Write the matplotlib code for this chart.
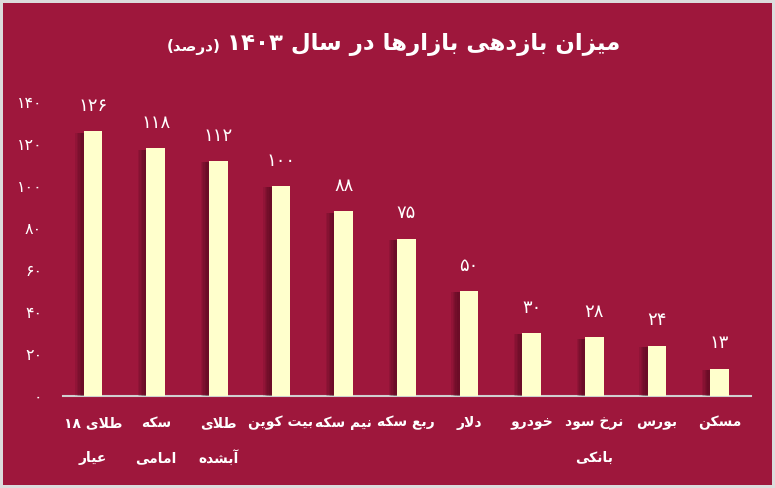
import re
import numpy as np
import matplotlib.pyplot as plt
import matplotlib.patheffects as pe
from matplotlib.transforms import blended_transform_factory

# data
labels = [["طلای ۱۸", "عیار"], ["سکه", "امامی"], ["طلای", "آبشده"], ["بیت کوین"],
          ["نیم سکه"], ["ربع سکه"], ["دلار"], ["خودرو"], ["نرخ سود", "بانکی"],
          ["بورس"], ["مسکن"]]
values = [126, 118, 112, 100, 88, 75, 50, 30, 28, 24, 13]
yticks = [0, 20, 40, 60, 80, 100, 120, 140]
title = "میزان بازدهی بازارها در سال ۱۴۰۳"
unit = "(درصد)"

bg = "#9e173c"
bar_color = "#ffffcc"

# simple persian shaping (no arabic_reshaper available)
FORMS = {
    'ا': (0xFE8D, 0xFE8E, None, None), 'آ': (0xFE81, 0xFE82, None, None),
    'ب': (0xFE8F, 0xFE90, 0xFE91, 0xFE92), 'ت': (0xFE95, 0xFE96, 0xFE97, 0xFE98),
    'خ': (0xFEA5, 0xFEA6, 0xFEA7, 0xFEA8), 'د': (0xFEA9, 0xFEAA, None, None),
    'ر': (0xFEAD, 0xFEAE, None, None), 'ز': (0xFEAF, 0xFEB0, None, None),
    'س': (0xFEB1, 0xFEB2, 0xFEB3, 0xFEB4), 'ش': (0xFEB5, 0xFEB6, 0xFEB7, 0xFEB8),
    'ص': (0xFEB9, 0xFEBA, 0xFEBB, 0xFEBC), 'ط': (0xFEC1, 0xFEC2, 0xFEC3, 0xFEC4),
    'ع': (0xFEC9, 0xFECA, 0xFECB, 0xFECC), 'ل': (0xFEDD, 0xFEDE, 0xFEDF, 0xFEE0),
    'م': (0xFEE1, 0xFEE2, 0xFEE3, 0xFEE4), 'ن': (0xFEE5, 0xFEE6, 0xFEE7, 0xFEE8),
    'ه': (0xFEE9, 0xFEEA, 0xFEEB, 0xFEEC), 'و': (0xFEED, 0xFEEE, None, None),
    'ی': (0xFBFC, 0xFBFD, 0xFBFE, 0xFBFF), 'ک': (0xFB8E, 0xFB8F, 0xFB90, 0xFB91),
    'LA': (0xFEFB, 0xFEFC, None, None),
}


def fa(s):
    items = []
    i = 0
    while i < len(s):
        if s[i] == 'ل' and i + 1 < len(s) and s[i + 1] == 'ا':
            items.append('LA')
            i += 2
        else:
            items.append(s[i])
            i += 1
    out = []
    for k, c in enumerate(items):
        if c not in FORMS:
            out.append(c)
            continue
        prev = items[k - 1] if k > 0 else None
        nxt = items[k + 1] if k + 1 < len(items) else None
        jp = prev in FORMS and FORMS[prev][2] is not None
        jn = nxt in FORMS and FORMS[c][2] is not None
        iso, fin, ini, med = FORMS[c]
        if jp and jn:
            out.append(chr(med))
        elif jp:
            out.append(chr(fin))
        elif jn:
            out.append(chr(ini))
        else:
            out.append(chr(iso))
    vis = ''.join(out)[::-1]
    vis = re.sub(r'[0-9۰-۹]+', lambda m: m.group()[::-1], vis)
    return vis.translate(str.maketrans('()', ')('))


def fa_num(n):
    return str(n).translate(str.maketrans('0123456789', '۰۱۲۳۴۵۶۷۸۹'))


fig = plt.figure(figsize=(7.75, 4.88), dpi=100)
fig.patch.set_facecolor(bg)
fig.patch.set_edgecolor("#dcdcdc")
fig.patch.set_linewidth(4)

ax = fig.add_axes([63 / 775, 92 / 488, 688 / 775, 294 / 488])
ax.set_facecolor(bg)

x = np.arange(len(values))
bars = ax.bar(x, values, width=0.3, color=bar_color, zorder=3)
# soft shadow on the left of each bar
shadow = [pe.SimplePatchShadow(offset=(-k, -1), shadow_rgbFace="#3a0514", alpha=0.12)
          for k in (6, 5, 4, 3, 2)]
for b in bars:
    b.set_path_effects(shadow + [pe.Normal()])

for xi, v in zip(x, values):
    ax.text(xi, v + 12, fa_num(v), color="white", fontsize=13, ha="center", va="center")

ax.set_xlim(-0.48, 10.5)
ax.set_ylim(0, 140)
ax.set_yticks(yticks)
ax.set_yticklabels([fa_num(t) for t in yticks], color="white", fontsize=11.5)
ax.tick_params(axis="y", length=0, pad=15)
ax.set_xticks([])
for side in ["left", "right", "top"]:
    ax.spines[side].set_visible(False)
ax.spines["bottom"].set_color("#d0d0d0")
ax.spines["bottom"].set_linewidth(1.5)

tr = blended_transform_factory(ax.transData, ax.transAxes)
for xi, lines in zip(x, labels):
    for j, line in enumerate(lines):
        ax.text(xi, -0.092 - 0.119 * j, fa(line), transform=tr, color="white",
                fontsize=10, fontweight="bold", ha="center", va="center")

t = fig.text(620 / 775, 1 - 45 / 488, fa(title), color="white", fontsize=16.5,
             fontweight="bold", ha="right", va="center")
fig.canvas.draw()
bb = t.get_window_extent()
fig.text((bb.x0 - 6) / 775, 1 - 47 / 488, fa(unit), color="white", fontsize=11,
         fontweight="bold", ha="right", va="center")

fig.savefig("out.png", dpi=100, facecolor=bg, edgecolor="#dcdcdc")
